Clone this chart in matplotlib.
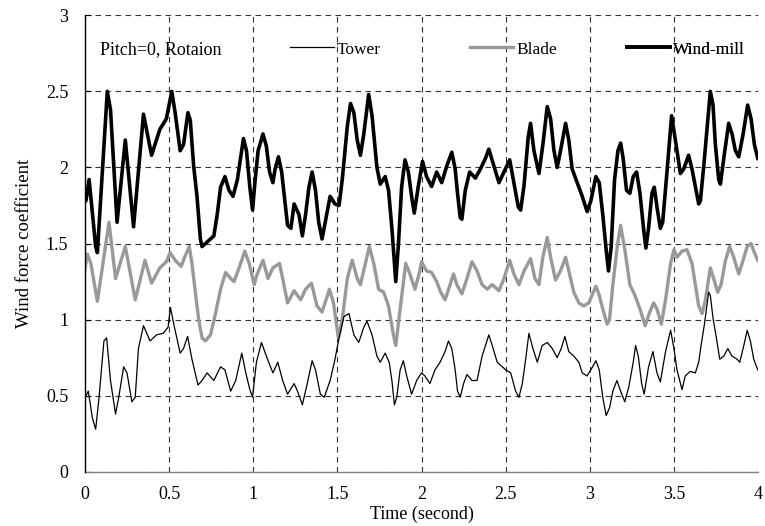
import matplotlib
matplotlib.use("Agg")
import matplotlib.pyplot as plt

plt.rcParams['font.family'] = ['Liberation Serif', 'DejaVu Serif']

# ---------------- data ----------------
t_tower = [0, 0.006, 0.020, 0.045, 0.064, 0.084, 0.113, 0.129, 0.152, 0.182, 0.201, 0.230, 0.250, 0.279, 0.299, 0.318, 0.348, 0.387, 0.426, 0.465, 0.494,
           0.508, 0.532, 0.566, 0.586, 0.610, 0.636, 0.672, 0.696, 0.726, 0.766, 0.806, 0.832, 0.866, 0.896, 0.932, 0.956, 0.980, 0.996,
           1.019, 1.049, 1.078, 1.117, 1.146, 1.175, 1.204, 1.243, 1.263, 1.292, 1.321, 1.350, 1.370, 1.399, 1.422, 1.457, 1.486,
           1.510, 1.539, 1.569, 1.598, 1.627, 1.657, 1.676, 1.706, 1.735, 1.755, 1.784, 1.808, 1.824, 1.839, 1.853, 1.873, 1.892, 1.912, 1.941, 1.971,
           2.000, 2.020, 2.050, 2.080, 2.110, 2.140, 2.160, 2.180, 2.200, 2.214, 2.230, 2.250, 2.270, 2.300, 2.330, 2.360, 2.400, 2.420, 2.450, 2.480,
           2.500, 2.530, 2.559, 2.579, 2.599, 2.619, 2.638, 2.662, 2.688, 2.717, 2.747, 2.777, 2.806, 2.830, 2.852, 2.875, 2.905, 2.935, 2.955, 2.984,
           3.006, 3.036, 3.056, 3.077, 3.097, 3.117, 3.137, 3.161, 3.183, 3.208, 3.232, 3.258, 3.272, 3.288, 3.308, 3.323, 3.349, 3.375, 3.399, 3.419, 3.450, 3.480, 3.500,
           3.518, 3.548, 3.567, 3.597, 3.627, 3.647, 3.661, 3.681, 3.706, 3.716, 3.732, 3.752, 3.772, 3.796, 3.820, 3.845, 3.875, 3.891, 3.915, 3.935, 3.954, 3.974, 3.998]
tower = [0.47, 0.50, 0.53, 0.35, 0.28, 0.49, 0.86, 0.88, 0.60, 0.38, 0.49, 0.69, 0.65, 0.46, 0.49, 0.81, 0.96, 0.86, 0.90, 0.91, 0.95,
         1.08, 0.95, 0.78, 0.81, 0.89, 0.74, 0.57, 0.60, 0.65, 0.60, 0.69, 0.67, 0.53, 0.60, 0.78, 0.65, 0.54, 0.49,
         0.72, 0.85, 0.76, 0.65, 0.72, 0.60, 0.51, 0.58, 0.53, 0.44, 0.58, 0.73, 0.67, 0.51, 0.49, 0.60, 0.74,
         0.88, 1.02, 1.04, 0.90, 0.85, 0.95, 0.99, 0.90, 0.76, 0.72, 0.78, 0.72, 0.60, 0.44, 0.49, 0.67, 0.73, 0.63, 0.51, 0.60,
         0.65, 0.63, 0.58, 0.67, 0.72, 0.79, 0.86, 0.81, 0.67, 0.53, 0.49, 0.58, 0.64, 0.60, 0.60, 0.76, 0.90, 0.83, 0.72, 0.69,
         0.67, 0.65, 0.53, 0.49, 0.58, 0.74, 0.91, 0.81, 0.72, 0.83, 0.85, 0.81, 0.75, 0.81, 0.89, 0.79, 0.76, 0.72, 0.65, 0.63,
         0.67, 0.73, 0.67, 0.49, 0.37, 0.42, 0.53, 0.60, 0.53, 0.46, 0.56, 0.72, 0.83, 0.76, 0.58, 0.51, 0.69, 0.79, 0.65, 0.59, 0.79, 0.93, 0.81,
         0.67, 0.54, 0.63, 0.66, 0.65, 0.72, 0.83, 0.97, 1.18, 1.16, 1.01, 0.88, 0.74, 0.76, 0.81, 0.76, 0.74, 0.72, 0.83, 0.93, 0.86, 0.74, 0.67]

t_blade = [0, 0.015, 0.035, 0.074, 0.143, 0.182, 0.240, 0.299, 0.357, 0.396, 0.445, 0.484,
           0.506, 0.536, 0.572, 0.596, 0.620, 0.636, 0.656, 0.676, 0.696, 0.716, 0.746, 0.776, 0.806, 0.836, 0.866, 0.886, 0.916, 0.950, 0.976,
           1.006, 1.020, 1.058, 1.088, 1.117, 1.156, 1.175, 1.204, 1.243, 1.282, 1.311, 1.346, 1.379, 1.409, 1.453, 1.477,
           1.506, 1.529, 1.559, 1.588, 1.618, 1.637, 1.667, 1.690, 1.716, 1.745, 1.775, 1.804, 1.833, 1.847, 1.873, 1.906, 1.931, 1.961, 1.990,
           2.000, 2.030, 2.060, 2.090, 2.114, 2.140, 2.170, 2.190, 2.210, 2.240, 2.270, 2.300, 2.330, 2.360, 2.390, 2.420, 2.460, 2.490,
           2.524, 2.549, 2.579, 2.609, 2.648, 2.674, 2.698, 2.721, 2.747, 2.767, 2.796, 2.826, 2.856, 2.875, 2.905, 2.935, 2.964, 2.994,
           3.036, 3.056, 3.077, 3.103, 3.117, 3.137, 3.163, 3.183, 3.208, 3.238, 3.268, 3.298, 3.329, 3.353, 3.379, 3.399, 3.425, 3.450, 3.480,
           3.500, 3.518, 3.548, 3.577, 3.607, 3.627, 3.647, 3.667, 3.687, 3.716, 3.736, 3.760, 3.780, 3.806, 3.831, 3.855, 3.885, 3.905, 3.935, 3.958, 3.978, 3.998]
blade = [1.33, 1.43, 1.37, 1.12, 1.64, 1.27, 1.48, 1.13, 1.39, 1.24, 1.34, 1.38,
         1.44, 1.39, 1.35, 1.42, 1.48, 1.37, 1.18, 1.00, 0.88, 0.86, 0.90, 1.04, 1.20, 1.31, 1.27, 1.25, 1.34, 1.45, 1.37,
         1.23, 1.29, 1.39, 1.27, 1.34, 1.37, 1.27, 1.11, 1.19, 1.13, 1.20, 1.24, 1.09, 1.05, 1.20, 1.11,
         0.88, 1.00, 1.27, 1.39, 1.27, 1.23, 1.37, 1.48, 1.37, 1.20, 1.18, 1.09, 0.90, 0.83, 1.07, 1.37, 1.30, 1.20, 1.32,
         1.38, 1.32, 1.31, 1.25, 1.18, 1.13, 1.23, 1.30, 1.23, 1.17, 1.27, 1.38, 1.32, 1.23, 1.20, 1.23, 1.19, 1.27,
         1.39, 1.30, 1.23, 1.32, 1.40, 1.27, 1.23, 1.41, 1.54, 1.41, 1.26, 1.32, 1.41, 1.32, 1.18, 1.11, 1.09, 1.11,
         1.22, 1.16, 1.07, 0.97, 1.00, 1.23, 1.48, 1.62, 1.46, 1.23, 1.16, 1.07, 0.96, 1.04, 1.11, 1.07, 0.97, 1.13, 1.37,
         1.46, 1.41, 1.45, 1.46, 1.37, 1.23, 1.09, 1.04, 1.13, 1.34, 1.27, 1.18, 1.23, 1.39, 1.48, 1.41, 1.30, 1.37, 1.48, 1.50, 1.44, 1.39]

t_mill = [0, 0.006, 0.025, 0.064, 0.074, 0.133, 0.152, 0.191, 0.240, 0.289, 0.348, 0.396, 0.445, 0.484,
          0.516, 0.536, 0.566, 0.586, 0.612, 0.626, 0.646, 0.666, 0.686, 0.696, 0.726, 0.766, 0.786, 0.806, 0.832, 0.856, 0.880, 0.906, 0.942, 0.960, 0.980, 0.996,
          1.010, 1.029, 1.058, 1.078, 1.097, 1.117, 1.130, 1.150, 1.169, 1.185, 1.204, 1.224, 1.243, 1.272, 1.292, 1.311, 1.331, 1.350, 1.370, 1.389, 1.409, 1.428, 1.457, 1.486,
          1.510, 1.529, 1.559, 1.578, 1.598, 1.618, 1.637, 1.657, 1.686, 1.706, 1.735, 1.755, 1.784, 1.804, 1.824, 1.839, 1.847, 1.863, 1.882, 1.902, 1.922, 1.941, 1.957, 1.980,
          2.006, 2.030, 2.060, 2.090, 2.120, 2.150, 2.180, 2.200, 2.214, 2.230, 2.240, 2.260, 2.286, 2.320, 2.350, 2.380, 2.400, 2.430, 2.460, 2.490,
          2.524, 2.549, 2.575, 2.589, 2.609, 2.634, 2.648, 2.668, 2.698, 2.721, 2.747, 2.767, 2.787, 2.806, 2.826, 2.856, 2.875, 2.895, 2.925, 2.955, 2.984,
          3.006, 3.036, 3.056, 3.077, 3.097, 3.111, 3.127, 3.147, 3.167, 3.183, 3.198, 3.218, 3.238, 3.258, 3.278, 3.298, 3.319, 3.333, 3.349, 3.369, 3.383, 3.399, 3.419, 3.433, 3.460, 3.486,
          3.518, 3.538, 3.558, 3.587, 3.607, 3.627, 3.647, 3.657, 3.677, 3.696, 3.716, 3.732, 3.746, 3.766, 3.776, 3.796, 3.825, 3.845, 3.865, 3.885, 3.911, 3.938, 3.958, 3.978, 3.998]
mill = [1.78, 1.78, 1.92, 1.48, 1.44, 2.50, 2.38, 1.64, 2.18, 1.61, 2.35, 2.08, 2.25, 2.32,
        2.50, 2.36, 2.11, 2.15, 2.36, 2.31, 2.01, 1.81, 1.53, 1.48, 1.51, 1.55, 1.69, 1.87, 1.94, 1.85, 1.81, 1.92, 2.19, 2.11, 1.87, 1.72,
        1.90, 2.11, 2.22, 2.14, 1.97, 1.90, 1.99, 2.07, 1.97, 1.81, 1.62, 1.60, 1.76, 1.69, 1.55, 1.69, 1.87, 1.97, 1.85, 1.64, 1.53, 1.64, 1.81, 1.76,
        1.75, 1.92, 2.27, 2.42, 2.36, 2.18, 2.08, 2.22, 2.48, 2.34, 2.00, 1.89, 1.94, 1.85, 1.60, 1.37, 1.25, 1.50, 1.875, 2.05, 1.97, 1.81, 1.70, 1.87,
        2.04, 1.94, 1.875, 1.97, 1.90, 2.01, 2.10, 1.99, 1.83, 1.67, 1.66, 1.85, 1.97, 1.93, 1.99, 2.06, 2.12, 2.01, 1.90, 1.97,
        2.05, 1.90, 1.74, 1.72, 1.88, 2.20, 2.29, 2.11, 1.96, 2.15, 2.40, 2.32, 2.11, 2.00, 2.11, 2.29, 2.18, 1.99, 1.90, 1.81, 1.71,
        1.78, 1.94, 1.90, 1.69, 1.46, 1.32, 1.48, 1.92, 2.11, 2.16, 2.06, 1.85, 1.83, 1.94, 1.97, 1.83, 1.60, 1.47, 1.60, 1.83, 1.87, 1.74, 1.60, 1.64, 1.99, 2.34,
        2.11, 1.96, 1.99, 2.08, 1.99, 1.875, 1.76, 1.78, 2.01, 2.25, 2.50, 2.41, 2.15, 1.92, 1.89, 2.06, 2.29, 2.22, 2.11, 2.07, 2.22, 2.41, 2.32, 2.15, 2.06]

x_ticks = [0, 0.5, 1, 1.5, 2, 2.5, 3, 3.5, 4]
x_tick_labels = ["0", "0.5", "1", "1.5", "2", "2.5", "3", "3.5", "4"]
y_ticks = [0, 0.5, 1, 1.5, 2, 2.5, 3]
y_tick_labels = ["0", "0.5", "1", "1.5", "2", "2.5", "3"]

# ---------------- figure ----------------
fig = plt.figure(figsize=(7.65, 5.26), dpi=100)
ax = fig.add_axes([0.111, 0.103, 0.880, 0.868])

h_tower, = ax.plot(t_tower, tower, color='black', lw=0.9, label='Tower', zorder=4)
h_blade, = ax.plot(t_blade, blade, color='#999999', lw=2.4, label='Blade', zorder=3)
h_mill, = ax.plot(t_mill, mill, color='black', lw=2.6, label='Wind-mill', zorder=3)

ax.set_xlim(0, 4)
ax.set_ylim(0, 3)
ax.set_xticks(x_ticks)
ax.set_xticklabels(x_tick_labels)
ax.set_yticks(y_ticks)
ax.set_yticklabels(y_tick_labels)
ax.tick_params(axis='both', labelsize=13)
ax.tick_params(axis='x', length=0, pad=10)
ax.tick_params(axis='y', direction='in', length=4, pad=12, color='black')

ax.grid(True, color='#333333', linestyle=(0, (5, 4)), lw=0.8)
for s in ['top', 'right']:
    ax.spines[s].set_visible(False)
ax.spines['left'].set_color('black')
ax.spines['left'].set_linewidth(1.0)
ax.spines['bottom'].set_color('#808080')
ax.spines['bottom'].set_linewidth(1.0)
ax.spines['left'].set_zorder(5)

ax.set_xlabel('Time (second)', fontsize=13, labelpad=2)
ax.set_ylabel('Wind force coefficient', fontsize=13.5, labelpad=9)

ax.text(0.022, 0.925, 'Pitch=0, Rotaion', transform=ax.transAxes, fontsize=13, va='center')

legend_x = [0.305, 0.572, 0.805]
for h, lx in zip([h_tower, h_blade, h_mill], legend_x):
    lg = ax.legend(handles=[h], loc='center left', bbox_to_anchor=(lx, 0.925), frameon=False,
                   fontsize=12.5, handlelength=2.5, handletextpad=0.15,
                   borderaxespad=0, borderpad=0)
    ax.add_artist(lg)

fig.savefig('out.png', dpi=100)
